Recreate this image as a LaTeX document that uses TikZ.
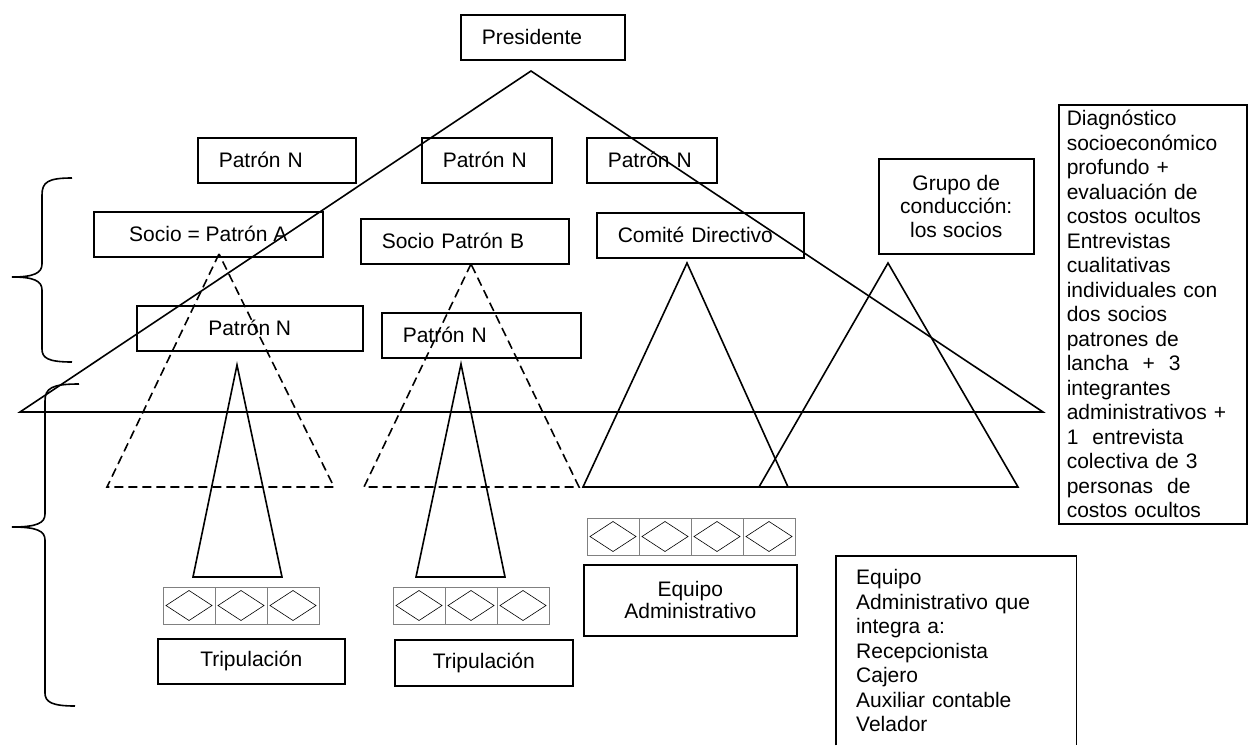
\documentclass[tikz,border=0pt]{standalone}
\usepackage{fontspec}
\setmainfont{Liberation Sans}
\usepackage{tikz}

\begin{document}
\begin{tikzpicture}[x=1pt, y=-1pt,
  every node/.style={font=\fontsize{21}{24.5}\selectfont},
  box/.style={draw, line width=1.5pt, anchor=north west, inner ysep=0pt, minimum height=45pt},
  lbox/.style={box, align=left, inner xsep=21pt},
  cbox/.style={box, align=center, inner xsep=0pt},
  tri/.style={line width=1.6pt},
  dtri/.style={line width=1.6pt, dash pattern=on 9pt off 5pt},
  brace/.style={line width=1.6pt},
  cell/.style={draw=gray, line width=0.8pt},
  gem/.style={line width=0.6pt}]

\useasboundingbox (0,0) rectangle (1248,745);

% boxes
\node[lbox, text width=122pt] (pres) at (460,14) {Presidente};
\node[lbox, text width=116pt] (patA) at (197,137) {Patrón N};
\node[lbox, text width=88pt] (patB) at (421,137) {Patrón N};
\node[lbox, text width=88pt] (patC) at (586,137) {Patrón N};
\node[cbox, minimum width=229pt] (socioA) at (93,211) {Socio = Patrón A};
\node[lbox, text width=166pt] (socioB) at (360,218) {Socio Patrón B};
\node[lbox, text width=165pt] (comite) at (596,212) {Comité Directivo};
\node[cbox, minimum width=155pt, minimum height=95pt,
  font=\fontsize{21}{23.5}\selectfont] (grupo) at (878,158) {Grupo de\\conducción:\\los socios};
\node[cbox, minimum width=226pt] (patD) at (136,305) {Patrón N};
\node[lbox, text width=157pt] (patE) at (381,312) {Patrón N};
\node[cbox, minimum width=187pt] (trip1) at (157,638) {Tripulación};
\node[cbox, minimum width=178pt, minimum height=46pt] (trip2) at (394,639) {Tripulación};
\node[cbox, minimum width=213pt, minimum height=71pt,
  font=\fontsize{21}{22}\selectfont] (equipo) at (583,564) {Equipo\\Administrativo};

\node[box, align=left, inner xsep=8pt, text width=172pt, minimum height=419pt] (diag) at (1058,104)
  {Diagnóstico\\socioeconómico\\profundo +\\evaluación de\\costos ocultos\\Entrevistas\\cualitativas\\individuales con\\dos socios\\patrones de\\lancha\ \ +\ \ 3\\integrantes\\administrativos +\\1\ \ entrevista\\colectiva de 3\\personas\ \ de\\costos ocultos};

\node[anchor=north west, align=left, inner xsep=20pt, inner ysep=0pt, text width=200pt,
  minimum height=189pt] (lista) at (836,556)
  {Equipo\\Administrativo que\\integra a:\\Recepcionista\\Cajero\\Auxiliar contable\\Velador};
\draw[line width=1.5pt] (lista.south west) -- (lista.north west) -- (lista.north east) -- (lista.south east);

% triangles
\draw[tri] (531,71) -- (20,412) -- (1043,412) -- cycle;
\draw[dtri] (219,254) -- (107,487) -- (334,487) -- cycle;
\draw[dtri] (471,264) -- (364,487) -- (579,487) -- cycle;
\draw[tri] (237,365) -- (193,577) -- (282,577) -- cycle;
\draw[tri] (461,364) -- (416,577) -- (505,577) -- cycle;
\draw[tri] (687,263) -- (583,487) -- (788,487) -- cycle;
\draw[tri] (888,263) -- (759,487) -- (1018,487) -- cycle;

% rows of diamonds
\foreach \x/\y/\n in {163/587/3, 393/587/3, 587/518/4}
  \foreach \i in {1,...,\n} {
    \draw[cell] ({\x+(\i-1)*52},\y) rectangle ++(52,37);
    \draw[gem] ({\x+(\i-1)*52+3},\y+18.5) -- ++(23,-15) -- ++(23,15) -- ++(-23,15) -- cycle;
  }

% braces
\draw[brace] (72,178) .. controls (48,178) and (42,182) .. (42,195) -- (42,264)
  .. controls (42,273) and (34,277) .. (12,277) .. controls (34,277) and (42,281) .. (42,290)
  -- (42,349) .. controls (42,358) and (48,362) .. (72,362);
\draw[brace] (79,384) .. controls (52,384) and (45,388) .. (45,401) -- (45,514)
  .. controls (45,523) and (37,527) .. (12,527) .. controls (37,527) and (45,531) .. (45,540)
  -- (45,693) .. controls (45,702) and (52,706) .. (75,706);

\end{tikzpicture}
\end{document}
